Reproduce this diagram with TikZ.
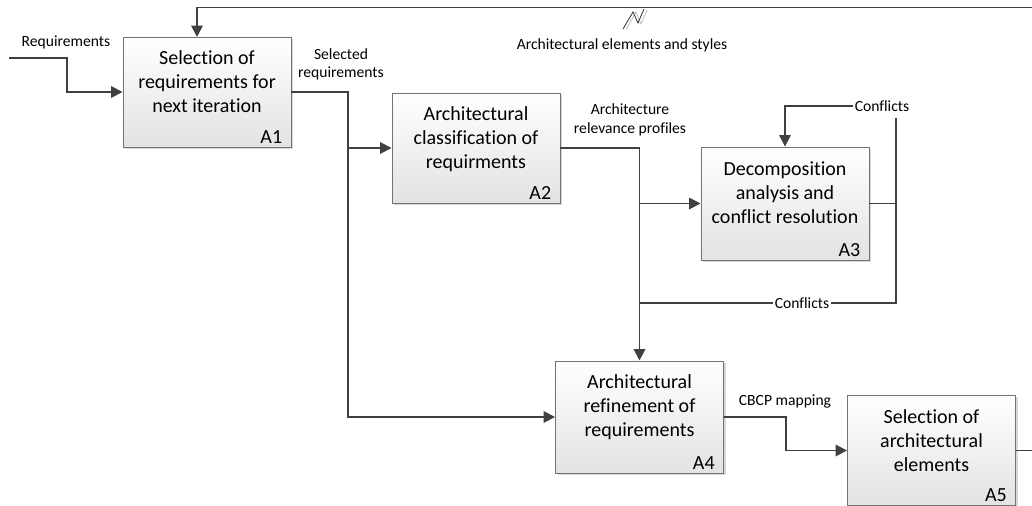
\documentclass[tikz,border=0pt]{standalone}
\usepackage{fontspec}
\setmainfont{Carlito}[Ligatures={NoCommon}]
\usetikzlibrary{positioning, arrows.meta, shadows}

\begin{document}
\begin{tikzpicture}[x=0.75pt, y=-0.75pt,
    func/.style={draw=black!55, line width=0.7pt, top color=white, bottom color=black!11,
        minimum width=126pt, drop shadow={shadow xshift=1.5pt, shadow yshift=-1.5pt, fill=black!30, opacity=0.5}},
    title/.style={align=center, inner sep=0pt, font=\fontsize{15}{18}\selectfont},
    fnum/.style={inner sep=0pt, font=\fontsize{15}{18}\selectfont},
    lbl/.style={align=center, inner sep=1pt, font=\fontsize{11.7}{14}\selectfont},
    wire/.style={draw=black!75, line width=1.4pt},
    thinwire/.style={draw=black!75, line width=1.1pt},
    flow/.style={wire, -{Triangle[length=8.5pt,width=8.5pt]}},
    thinflow/.style={thinwire, -{Triangle[length=8.5pt,width=8.5pt]}}]
\useasboundingbox (0,0) rectangle (1032,506);

% activity boxes
\node[func, minimum height=82.5pt] (a1) at (207,92) {};
\node[title, below=10pt of a1.north] (a1t) {Selection of\\requirements for\\next iteration};
\node[fnum, above left=2.6pt and 6.75pt of a1.south east] (a1n) {A1};

\node[func, minimum height=82.5pt] (a2) at (476,148) {};
\node[title, below=10pt of a2.north] (a2t) {Architectural\\classification of\\requirments};
\node[fnum, above left=2.6pt and 6.75pt of a2.south east] (a2n) {A2};

\node[func, minimum height=84.75pt] (a3) at (785,203.5) {};
\node[title, below=11pt of a3.north] (a3t) {Decomposition\\analysis and\\conflict resolution};
\node[fnum, above left=2.6pt and 6.75pt of a3.south east] (a3n) {A3};

\node[func, minimum height=84pt] (a4) at (639.5,417) {};
\node[title, below=10.5pt of a4.north] (a4t) {Architectural\\refinement of\\requirements};
\node[fnum, above left=2.6pt and 6.75pt of a4.south east] (a4n) {A4};

\node[func, minimum height=83pt] (a5) at (931.5,450.5) {};
\node[title, below=11pt of a5.north] (a5t) {Selection of\\architectural\\elements};
\node[fnum, above left=3.2pt and 6.75pt of a5.south east] (a5n) {A5};

% labels
\node[lbl] (lreq) at (66,42) {Requirements};
\node[lbl] (lsel) at (341,64.5) {Selected\\requirements};
\node[lbl] (lprof) at (630,120) {Architecture\\relevance profiles};
\node[lbl] (lstyle) at (622,45) {Architectural elements and styles};
\node[lbl] (lmap) at (785,401) {CBCP mapping};
\node[lbl, fill=white] (c1) at (882,106) {Conflicts};
\node[lbl, fill=white] (c2) at (802,303) {Conflicts};

% connectors
\coordinate (reqin) at (9,58);
\coordinate (j1) at (348,148);
\coordinate (j2) at (639.5,203.5);
\coordinate (j3) at (896,203.5);
\coordinate (j4) at (639.5,303);
\coordinate (fbin) at (197,37);

\draw[flow] (reqin) -- (67,58) |- (a1.west);
\draw[flow] (a1.east) -| (j1) -- (a2.west);
\draw[flow] (j1) |- (a4.west);
\draw[flow] (a2.east) -| (j2) -- (a3.west);
\draw[flow] (j2) -- (a4.north);
\draw[thinwire] (a3.east) -- (j3) -- ([yshift=-4pt]j3 |- c1.south);
\draw[thinflow] (c1.west) -| (a3.north);
\draw[thinwire] (j3) |- (c2.east);
\draw[thinwire] (c2.west) -- (j4);
\draw[flow] (a4.east) -- (786,417) |- (a5.west);
\draw[flow] (a5.east) -| (1045,7.5) -| (fbin);

% squiggle to the tunnel label
\draw[black!25, line width=0.6pt] (626,30) -- (636,12) -- (641,24) -- (647,10);
\draw[black!80, line width=0.6pt] (623,29) -- (633,12) -- (638,23) -- (644,9);
\end{tikzpicture}
\end{document}
